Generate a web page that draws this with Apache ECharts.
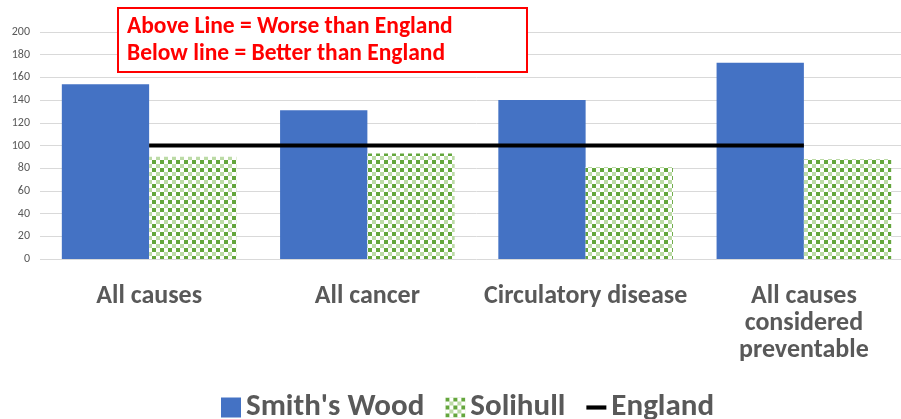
<!DOCTYPE html>
<html><head><meta charset="utf-8">
<script src="https://cdn.jsdelivr.net/npm/echarts@6/dist/echarts.min.js"></script>
<style>html,body{margin:0;padding:0;background:#fff;overflow:hidden;width:901px;height:419px}#c{width:913px;height:419px}</style>
</head><body><div id="c"></div>
<script>
const categories = ['All causes', 'All cancer', 'Circulatory disease', 'All causes\nconsidered\npreventable'];
const smithsWood = [154, 131, 140, 173];
const solihull = [90, 93, 81, 88];
const england = [100, 100, 100, 100];
const yTicks = [0, 20, 40, 60, 80, 100, 120, 140, 160, 180, 200];

function makePattern() {
  const c = document.createElement('canvas');
  c.width = 8; c.height = 8;
  const g = c.getContext('2d');
  g.fillStyle = '#ffffff'; g.fillRect(0, 0, 8, 8);
  g.fillStyle = '#64a63c'; g.fillRect(0, 0, 4, 4);
  g.fillStyle = '#bcdba6'; g.fillRect(4, 4, 4, 4);
  return c;
}
const pattern = { image: makePattern(), repeat: 'repeat' };

const chart = echarts.init(document.getElementById('c'), null, { renderer: 'canvas' });
const font = 'Carlito, Calibri, "Open Sans", sans-serif';
chart.setOption({
  animation: false,
  textStyle: { fontFamily: font },
  grid: { left: 40, top: 32, height: 227, width: 873, containLabel: false },
  legend: {
    left: 216, top: 387,
    itemWidth: 20, itemHeight: 20, itemGap: 21,
    symbolKeepAspect: true,
    textStyle: { fontSize: 31, fontWeight: 'bold', color: '#595959', fontFamily: font },
    data: [
      { name: "Smith's Wood", icon: 'rect' },
      { name: 'Solihull', icon: 'rect' },
      { name: 'England', icon: 'path://M0,0 L24,0 L24,5 L0,5 Z' }
    ]
  },
  xAxis: {
    type: 'category', data: categories,
    axisLine: { show: false }, axisTick: { show: false },
    axisLabel: { fontSize: 26, fontWeight: 'bold', color: '#595959', lineHeight: 27, margin: 24, interval: 0, fontFamily: font }
  },
  yAxis: {
    type: 'value', min: yTicks[0], max: yTicks[yTicks.length - 1], interval: 20,
    axisLine: { show: false }, axisTick: { show: false },
    axisLabel: { fontSize: 12, color: '#595959', margin: 10, fontFamily: font },
    splitLine: { lineStyle: { color: '#d9d9d9', width: 1 } }
  },
  series: [
    { name: "Smith's Wood", type: 'bar', data: smithsWood, barGap: '0%', barCategoryGap: '20%',
      itemStyle: { color: '#4472c4' } },
    { name: 'Solihull', type: 'bar', data: solihull,
      itemStyle: { color: pattern } },
    { name: 'England', type: 'line', data: england, symbol: 'none', z: 5,
      itemStyle: { color: '#000' },
      lineStyle: { color: '#000', width: 4 } }
  ],
  graphic: [
    { type: 'rect', shape: { x: 118, y: 8, width: 409, height: 64 },
      style: { fill: '#fff', stroke: '#ff0000', lineWidth: 2 }, z: 10 },
    { type: 'text', x: 127, y: 14, z: 11,
      style: { text: 'Above Line = Worse than England\nBelow line = Better than England',
        fill: '#ff0000', font: 'bold 23.5px ' + font, lineHeight: 27 } }
  ]
});
</script></body></html>
